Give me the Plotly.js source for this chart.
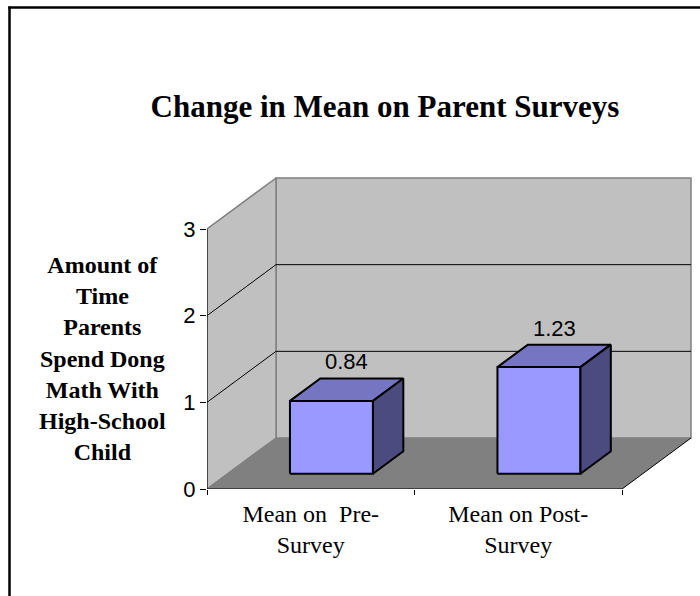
<!DOCTYPE html>
<html>
<head>
<meta charset="utf-8">
<script src="https://cdn.plot.ly/plotly-3.0.1.min.js"></script>
<style>html,body{margin:0;padding:0;background:#fff;overflow:hidden;}</style>
</head>
<body>
<div id="chart" style="width:700px;height:596px;"></div>
<script>
// ---- data ----
const categories = ['Mean on\u00a0 Pre-<br>Survey', 'Mean on Post-<br>Survey'];
const means = [0.84, 1.23];
const valueLabels = ['0.84', '1.23'];
const yTicks = [0, 1, 2, 3];
const chartTitle = 'Change in Mean on Parent Surveys';
const yTitle = 'Amount of<br>Time<br>Parents<br>Spend Dong<br>Math With<br>High-School<br>Child';

// ---- page / plot geometry ----
const W = 700, H = 596;
const M = {l: 207, r: 7, t: 176, b: 107};
const plotW = W - M.l - M.r, plotH = H - M.t - M.b;
const NCAT = categories.length, YMAX = yTicks[yTicks.length - 1];
const PX_PER_X = 415 / NCAT;      // front edge of the floor
const PX_PER_Y = 260 / YMAX;      // front edge of the value axis
const DX = 69 / PX_PER_X;         // depth offset of the back wall, x units
const DY = 51 / PX_PER_Y;         // depth offset of the back wall, y units

const SERIF = '"Times New Roman", "Liberation Serif", serif';
const SANS = 'Arial, "Liberation Sans", sans-serif';

const px2paperX = px => (px - M.l) / plotW;
const px2paperY = py => (H - M.b - py) / plotH;

// oblique projection: category position x, value v, depth d (0 = front, 1 = back wall)
const P = (x, v, d) => [x + d * DX, v + d * DY];

function poly(points, fill, lineColor, lineWidth) {
  const pts = points.concat([points[0]]);
  return {
    type: 'scatter', mode: 'lines', hoverinfo: 'skip',
    x: pts.map(p => p[0]), y: pts.map(p => p[1]),
    fill: 'toself', fillcolor: fill,
    line: {color: lineColor || fill, width: lineWidth === undefined ? 1 : lineWidth}
  };
}
function seg(a, b, color, width) {
  return {
    type: 'scatter', mode: 'lines', hoverinfo: 'skip',
    x: [a[0], b[0]], y: [a[1], b[1]],
    line: {color: color, width: width}
  };
}

const traces = [];
const WALL = '#c0c0c0', WALL_EDGE = '#808080', FLOOR = '#808080';

// back wall
traces.push(poly([P(0, 0, 1), P(NCAT, 0, 1), P(NCAT, YMAX, 1), P(0, YMAX, 1)], WALL, WALL_EDGE, 1.5));
// side wall
traces.push(poly([P(0, 0, 0), P(0, 0, 1), P(0, YMAX, 1), P(0, YMAX, 0)], WALL, WALL_EDGE, 1.5));
// floor
traces.push(poly([P(0, 0, 0), P(NCAT, 0, 0), P(NCAT, 0, 1), P(0, 0, 1)], FLOOR, FLOOR, 0));
traces.push(seg(P(NCAT, 0, 0), P(NCAT, 0, 1), '#000', 1));

// gridlines on both walls
yTicks.filter(v => v > 0 && v < YMAX).forEach(v => {
  traces.push(seg(P(0, v, 0), P(0, v, 1), '#000', 1));
  traces.push(seg(P(0, v, 1), P(NCAT, v, 1), '#000', 1));
});

// axis lines
traces.push(seg(P(0, 0, 0), P(0, YMAX, 0), '#000', 1));
traces.push(seg(P(0, 0, 0), P(NCAT, 0, 0), '#000', 1));

// 3-D bars
const HALF = 0.2, D0 = 0.3, D1 = 0.74;
const FRONT = '#9999ff', TOP = '#7575c2', SIDE = '#4b4b80';
const annotations = [];
means.forEach((v, i) => {
  const c = i + 0.5, l = c - HALF, r = c + HALF;
  traces.push(poly([P(l, 0, D0), P(r, 0, D0), P(r, v, D0), P(l, v, D0)], FRONT, '#000', 2));
  traces.push(poly([P(l, v, D0), P(r, v, D0), P(r, v, D1), P(l, v, D1)], TOP, '#000', 2));
  traces.push(poly([P(r, 0, D0), P(r, 0, D1), P(r, v, D1), P(r, v, D0)], SIDE, '#000', 2));
  const lp = P(c, v, (D0 + D1) / 2);
  annotations.push({
    x: lp[0], y: P(c, v, D1)[1], xref: 'x', yref: 'y',
    text: valueLabels[i], showarrow: false, xanchor: 'center', yanchor: 'bottom', yshift: 2,
    font: {family: SANS, size: 22, color: '#000'}
  });
});

// value axis title, written horizontally
annotations.push({
  xref: 'paper', yref: 'paper', x: px2paperX(102), y: px2paperY(358),
  xanchor: 'center', yanchor: 'middle', align: 'center', showarrow: false,
  text: yTitle, font: {family: SERIF, size: 24, color: '#000', weight: 'bold'}
});

const layout = {
  width: W, height: H,
  margin: {l: M.l, r: M.r, t: M.t, b: M.b, pad: 0},
  paper_bgcolor: '#ffffff', plot_bgcolor: 'rgba(0,0,0,0)',
  showlegend: false,
  title: {
    text: chartTitle,
    font: {family: SERIF, size: 31, color: '#000', weight: 'bold'},
    xref: 'container', x: 385 / W, xanchor: 'center',
    yref: 'container', y: 1 - 106 / H, yanchor: 'middle'
  },
  xaxis: {
    range: [0, plotW / PX_PER_X], fixedrange: true,
    tickvals: categories.map((_, i) => i + 0.5), ticktext: categories,
    ticks: '', showline: false, showgrid: false, zeroline: false,
    ticklabelstandoff: 8,
    tickfont: {family: SERIF, size: 24, color: '#000'},
    minor: {tickvals: categories.map((_, i) => i).concat([NCAT]), ticks: 'outside', ticklen: 5, tickwidth: 1, tickcolor: '#000', showgrid: false}
  },
  yaxis: {
    range: [0, plotH / PX_PER_Y], fixedrange: true,
    tickvals: yTicks, ticks: 'outside', ticklen: 6, tickwidth: 1, tickcolor: '#000',
    showline: false, showgrid: false, zeroline: false,
    tickfont: {family: SANS, size: 22, color: '#000'}
  },
  annotations: annotations,
  // chart frame: left and top edges (the rest runs off the page)
  shapes: [
    {type: 'line', xref: 'paper', yref: 'paper',
     x0: px2paperX(9.5), x1: px2paperX(9.5), y0: px2paperY(H + 5), y1: px2paperY(6.5),
     line: {color: '#000', width: 2.5}, layer: 'above'},
    {type: 'line', xref: 'paper', yref: 'paper',
     x0: px2paperX(8.3), x1: px2paperX(W + 5), y0: px2paperY(7.5), y1: px2paperY(7.5),
     line: {color: '#000', width: 2.5}, layer: 'above'}
  ]
};

Plotly.newPlot('chart', traces, layout, {displayModeBar: false, staticPlot: true});
</script>
</body>
</html>
